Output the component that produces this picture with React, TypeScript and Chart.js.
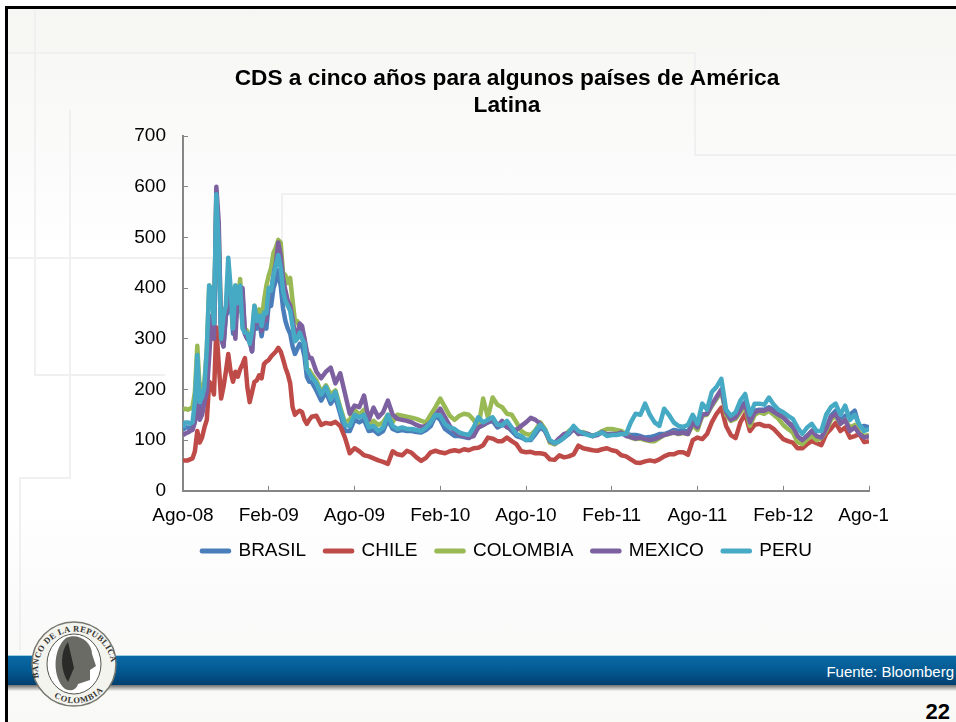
import React, { useEffect, useRef } from "react";
import { Chart, registerables } from "chart.js";

Chart.register(...registerables);

const titleLines = ["CDS a cinco años para algunos países de América", "Latina"];
const xTickLabels = ["Ago-08", "Feb-09", "Ago-09", "Feb-10", "Ago-10", "Feb-11", "Ago-11", "Feb-12", "Ago-12"];
const yTicks = [0, 100, 200, 300, 400, 500, 600, 700];
const seriesNames = ["BRASIL", "CHILE", "COLOMBIA", "MEXICO", "PERU"];
const seriesColors = ["#4A7EBB", "#BE4B48", "#98B954", "#7D60A0", "#46AAC5"];

// Sample times, in months since Ago-08: six a month to month 9, then three a month.
const months: number[] = [
  ...Array.from({ length: 54 }, (_, j) => j / 6),
  ...Array.from({ length: 118 }, (_, k) => 9 + k / 3),
];

const brasil = [
  120,125,125,124,125,150,210,150,160,180,230,330,340,300,560,480,300,285,345,355,390,310,330,370,355,385,310,
  300,295,275,345,320,335,305,335,320,370,365,400,415,435,405,360,335,320,310,285,270,280,290,285,265,225,215,
  215,198,178,195,172,185,152,118,118,140,
  135,140,118,120,112,118,140,122,118,120,
  118,118,116,115,120,128,148,140,122,115,
  108,108,106,104,116,125,130,135,138,125,
  130,128,118,108,105,100,100,112,125,118,
  98,92,98,105,112,122,114,112,112,108,
  112,116,112,112,112,116,112,110,110,108,
  105,106,108,112,112,115,120,118,120,116,
  135,125,150,152,168,182,198,155,142,148,
  165,175,138,158,160,160,165,160,152,145,
  135,125,105,98,108,118,105,106,120,148,
  158,138,148,150,158,125,128,125,
];

const chile = [
  60,60,60,62,64,78,118,95,105,125,140,215,210,190,322,250,182,205,235,270,235,215,235,225,240,250,262,
  205,175,195,215,218,228,222,250,255,258,265,270,275,282,275,260,243,230,212,165,150,155,158,155,140,132,140,
  146,148,130,134,132,136,128,105,74,84,
  78,70,68,64,60,57,53,78,72,70,
  79,75,66,59,65,76,79,76,74,78,
  80,78,82,80,84,85,90,105,103,98,
  98,105,98,92,78,76,77,74,74,72,
  62,61,70,66,68,72,89,84,82,80,
  79,82,84,80,78,70,68,62,56,55,
  58,60,58,62,68,72,72,76,76,71,
  100,105,102,112,135,152,164,128,110,104,
  135,152,118,130,132,128,128,122,112,102,
  98,95,84,84,92,98,94,90,112,122,
  134,118,125,105,108,112,96,98,
];

const colombia = [
  160,162,160,162,165,195,286,200,204,215,280,405,395,330,585,505,320,305,362,365,400,322,405,372,418,325,320,
  315,305,295,365,345,358,335,375,405,425,440,470,480,495,490,430,425,410,420,375,335,335,320,318,300,240,238,
  230,218,195,208,190,198,165,135,140,160,
  150,160,132,138,130,135,150,135,150,148,
  146,144,142,138,135,150,165,182,165,148,
  140,148,152,150,140,125,182,145,184,170,
  165,152,150,135,118,112,110,120,135,122,
  95,92,100,108,118,124,112,116,112,108,
  112,118,122,122,120,118,112,105,102,103,
  100,98,98,104,110,112,115,112,114,112,
  130,120,148,150,168,182,198,150,138,142,
  155,168,128,150,155,152,158,150,142,130,
  122,115,96,92,102,108,100,104,118,140,
  148,132,140,125,130,115,108,110,
];

const mexico = [
  110,113,115,118,120,135,195,140,150,175,195,265,345,300,600,530,310,285,350,365,400,340,300,395,370,400,310,
  300,295,275,345,330,345,315,345,335,390,395,425,450,490,465,420,395,375,365,340,310,305,330,325,300,275,262,
  262,235,222,235,243,212,232,192,152,168,
  165,188,140,164,145,155,178,150,142,140,
  138,135,130,126,128,135,150,162,145,128,
  118,110,108,105,108,125,130,135,142,128,
  138,125,122,120,128,135,144,140,132,118,
  98,94,104,112,114,122,112,114,112,108,
  110,116,110,112,112,115,108,106,103,105,
  102,100,102,106,110,113,115,113,115,112,
  135,125,150,152,170,185,200,155,140,145,
  160,172,135,155,158,158,162,156,150,145,
  135,128,108,100,108,118,108,105,122,145,
  152,132,140,118,125,112,105,108,
];

const peru = [
  125,135,135,133,135,175,268,175,185,205,280,405,395,330,585,480,300,345,365,460,400,320,405,370,405,320,312,
  310,290,315,365,335,345,325,352,350,400,395,425,445,465,440,395,375,365,355,325,295,300,312,300,290,240,232,
  225,212,190,205,180,195,160,130,128,150,
  145,150,125,128,118,125,150,128,122,125,
  122,122,120,118,125,135,150,148,132,125,
  122,115,112,110,125,145,135,140,145,130,
  130,138,125,112,108,100,102,118,130,120,
  100,94,98,105,115,128,118,114,110,108,
  112,115,108,110,110,112,112,135,152,150,
  172,150,135,128,162,150,135,128,126,130,
  150,132,172,160,195,205,221,160,148,155,
  178,191,150,172,172,170,184,170,160,155,
  148,142,125,112,125,132,118,118,150,165,
  172,150,168,140,150,130,118,122,
];

const seriesValues = [brasil, chile, colombia, mexico, peru];

const FONT = "'Liberation Sans', Arial, sans-serif";

function Backdrop() {
  const faint = "#f0f0f0";
  return (
    <svg width={956} height={722} style={{ position: "absolute", left: 0, top: 0 }}>
      <defs>
        <linearGradient id="bg" x1="0" y1="0" x2="0" y2="1">
          <stop offset="0" stopColor="#f6f6f2" />
          <stop offset="0.22" stopColor="#fbfbfb" />
          <stop offset="0.35" stopColor="#ffffff" />
          <stop offset="0.7" stopColor="#ffffff" />
          <stop offset="0.85" stopColor="#fafafa" />
          <stop offset="1" stopColor="#f9f9f6" />
        </linearGradient>
        <linearGradient id="band" x1="0" y1="0" x2="0" y2="1">
          <stop offset="0" stopColor="#0a6aa6" />
          <stop offset="0.5" stopColor="#045a92" />
          <stop offset="1" stopColor="#023f70" />
        </linearGradient>
        <linearGradient id="shadow" x1="0" y1="0" x2="0" y2="1">
          <stop offset="0" stopColor="#6f6f6f" />
          <stop offset="1" stopColor="#f5f5f2" />
        </linearGradient>
        <path id="arcTop" d="M 40 682 A 37 38 0 1 1 110 682" />
        <path id="arcBottom" d="M 42 684 A 38 38 0 0 0 108 684" />
      </defs>
      <rect x={0} y={0} width={956} height={722} fill="#ffffff" />
      <rect x={7} y={9} width={949} height={713} fill="url(#bg)" />
      <g stroke={faint} strokeWidth={2} fill="none">
        <path d="M8 53H695V155H956" />
        <path d="M8 258H282V194H956" />
        <path d="M35 10V375H165" />
        <path d="M70 110V478H20V650" />
      </g>
      <rect x={5} y={6} width={951} height={3} fill="#000000" />
      <rect x={5} y={6} width={3} height={716} fill="#000000" />
      <rect x={8} y={655} width={948} height={1} fill="#9fd0e4" />
      <rect x={8} y={656} width={948} height={29} fill="url(#band)" />
      <rect x={8} y={685} width={948} height={6} fill="url(#shadow)" />
      <ellipse cx={74} cy={664} rx={42} ry={42} fill="#f4f4ef" stroke="#77776f" strokeWidth={1.5} />
      <ellipse cx={74} cy={664} rx={27} ry={30} fill="#ffffff" stroke="#55554f" strokeWidth={1} />
      <path d="M66 638 C 78 632 92 642 92 654 L 96 666 L 90 670 L 90 680 L 78 684 C 76 692 66 692 62 686 C 52 672 54 648 66 638 Z" fill="#6b6b66" />
      <path d="M68 642 C 60 652 60 670 68 682 L 74 668 Z" fill="#2a2a28" />
      <text fontFamily="'Liberation Serif', serif" fontSize={8.5} fontWeight={700} fill="#33332f" letterSpacing={0.4}>
        <textPath href="#arcTop" startOffset="3%">BANCO DE LA REPUBLICA</textPath>
      </text>
      <text fontFamily="'Liberation Serif', serif" fontSize={8.5} fontWeight={700} fill="#33332f" letterSpacing={0.8}>
        <textPath href="#arcBottom" startOffset="22%">COLOMBIA</textPath>
      </text>
      <text x={954} y={677} textAnchor="end" fontFamily={FONT} fontSize={15} fill="#ffffff">Fuente: Bloomberg</text>
      <text x={950} y={719} textAnchor="end" fontFamily={FONT} fontSize={22} fontWeight={700} fill="#000000">22</text>
    </svg>
  );
}

export default function App() {
  const ref = useRef<HTMLCanvasElement | null>(null);

  useEffect(() => {
    if (!ref.current) return;
    const axisGrey = "#868686";
    const tickFont = { family: FONT, size: 19 };
    const liftLegend = {
      id: "liftLegend",
      afterLayout: (c: any) => {
        c.legend.top -= 4.4;
        c.legend.bottom -= 4.4;
      },
    };
    const chart = new Chart(ref.current, {
      type: "line",
      data: {
        datasets: seriesNames.map((name, i) => ({
          label: name,
          data: seriesValues[i].map((y, n) => ({ x: months[n], y })),
          borderColor: seriesColors[i],
          backgroundColor: seriesColors[i],
          borderWidth: 4.5,
          pointRadius: 0,
          tension: 0,
          borderJoinStyle: "round" as const,
          order: seriesNames.length - i,
        })),
      },
      plugins: [liftLegend],
      options: {
        responsive: false,
        animation: false,
        layout: { padding: { left: 131, right: 5, top: 65, bottom: 25.2 } },
        plugins: {
          tooltip: { enabled: false },
          title: {
            display: true,
            text: titleLines,
            color: "#000000",
            font: { family: FONT, size: 22.7, weight: "bold", lineHeight: 1.19 },
            padding: { top: 0, bottom: 17 },
          },
          legend: {
            position: "bottom",
            labels: {
              color: "#000000",
              font: tickFont,
              boxWidth: 27,
              boxHeight: 0.5,
              padding: 19,
              sort: (a: any, b: any) => a.datasetIndex - b.datasetIndex,
            },
          },
        },
        scales: {
          x: {
            type: "linear",
            min: 0,
            max: 48,
            afterFit: (s: any) => {
              s.height = 36;
              s.paddingLeft = 0;
              s.paddingRight = 19;
            },
            grid: { drawOnChartArea: false, tickLength: -5, tickColor: axisGrey, tickWidth: 1 },
            border: { color: axisGrey, width: 2 },
            ticks: {
              stepSize: 6,
              color: "#000000",
              font: tickFont,
              padding: 19,
              maxRotation: 0,
              autoSkip: false,
              callback: (v: any) => xTickLabels[Math.round(Number(v) / 6)] ?? "",
            },
          },
          y: {
            min: yTicks[0],
            max: yTicks[yTicks.length - 1],
            afterFit: (s: any) => {
              s.width = 52;
            },
            grid: { drawOnChartArea: false, tickLength: -5, tickColor: axisGrey, tickWidth: 1 },
            border: { color: axisGrey, width: 2 },
            ticks: { stepSize: 100, color: "#000000", font: tickFont, padding: 22 },
          },
        },
      },
    } as any);
    return () => chart.destroy();
  }, []);

  return (
    <div style={{ position: "absolute", left: 0, top: 0, width: 956, height: 722, overflow: "hidden" }}>
      <Backdrop />
      <canvas ref={ref} width={888} height={600} style={{ position: "absolute", left: 0, top: 0, width: 888, height: 600 }} />
    </div>
  );
}
